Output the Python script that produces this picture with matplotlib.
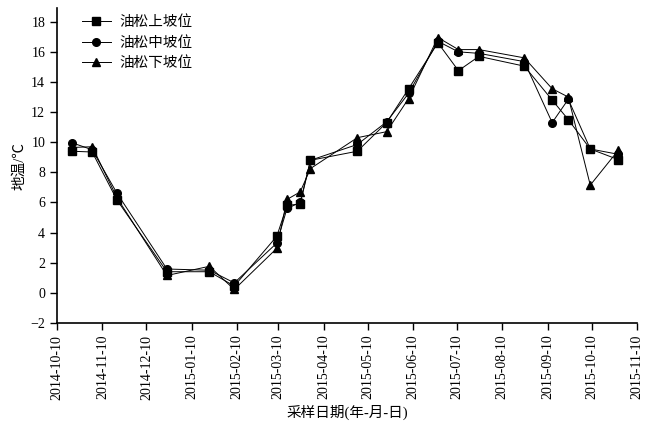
import matplotlib
matplotlib.use("Agg")
import matplotlib.pyplot as plt
import matplotlib.dates as mdates
import numpy as np
import pandas as pd

plt.rcParams['font.family'] = ['Liberation Serif', 'Noto Sans CJK SC', 'DejaVu Sans']
plt.rcParams['axes.unicode_minus'] = True

dates = ["2014-10-20", "2014-11-03", "2014-11-20", "2014-12-24", "2015-01-22",
         "2015-02-08", "2015-03-09", "2015-03-16", "2015-03-25", "2015-04-01",
         "2015-05-03", "2015-05-23", "2015-06-07", "2015-06-27", "2015-07-11",
         "2015-07-25", "2015-08-25", "2015-09-13", "2015-09-24", "2015-10-09",
         "2015-10-28"]
upper = [9.4, 9.35, 6.15, 1.4, 1.4, 0.45, 3.75, 5.8, 5.9, 8.8, 9.4, 11.3, 13.55,
         16.6, 14.75, 15.7, 15.05, 12.8, 11.5, 9.55, 8.85]
middle = [9.97, 9.5, 6.6, 1.58, 1.5, 0.66, 3.3, 5.6, 6.0, 8.8, 9.85, 11.35, 13.25,
          16.7, 16.0, 15.9, 15.35, 11.3, 12.85, 9.55, 9.2]
lower = [9.65, 9.7, 6.3, 1.15, 1.76, 0.22, 2.95, 6.2, 6.7, 8.25, 10.3, 10.7, 12.9,
         16.95, 16.15, 16.15, 15.6, 13.55, 13.0, 7.15, 9.45]
labels = ["油松上坡位", "油松中坡位", "油松下坡位"]
tick_dates = ["2014-10-10", "2014-11-10", "2014-12-10", "2015-01-10", "2015-02-10",
              "2015-03-10", "2015-04-10", "2015-05-10", "2015-06-10", "2015-07-10",
              "2015-08-10", "2015-09-10", "2015-10-10", "2015-11-10"]
yticks = list(range(-2, 19, 2))

x = pd.to_datetime(dates)
xt = pd.to_datetime(tick_dates)

fig = plt.figure(figsize=(6.63, 4.30), dpi=100)
ax = fig.add_axes([0.086, 0.249, 0.875, 0.732])

for vals, mk, lab in zip([upper, middle, lower], ['s', 'o', '^'], labels):
    ax.plot(x, vals, color='black', lw=0.7, marker=mk, markersize=5.5,
            markerfacecolor='black', markeredgecolor='black', label=lab)

ax.set_xlim(xt[0], xt[-1])
ax.set_ylim(-2, 18.9)
ax.set_xticks(xt)
ax.set_xticklabels(tick_dates, rotation=90, fontsize=10)
ax.set_yticks(yticks)
ax.set_yticklabels([str(v).replace('-', '\u2212') for v in yticks], fontsize=10)
ax.spines['top'].set_visible(False)
ax.spines['right'].set_visible(False)
ax.spines['left'].set_linewidth(1.2)
ax.spines['bottom'].set_linewidth(1.2)
ax.tick_params(direction='out', length=5, width=1.0)

ax.set_xlabel("采样日期(年-月-日)", fontsize=10.5, labelpad=4)
ax.set_ylabel("地温/℃", fontsize=10.5, labelpad=3)

ax.legend(loc='upper left', bbox_to_anchor=(0.02, 1.018), frameon=False,
          fontsize=10.5, handlelength=2.0, labelspacing=0.45, handletextpad=0.6)

fig.savefig("out.png", dpi=100)
